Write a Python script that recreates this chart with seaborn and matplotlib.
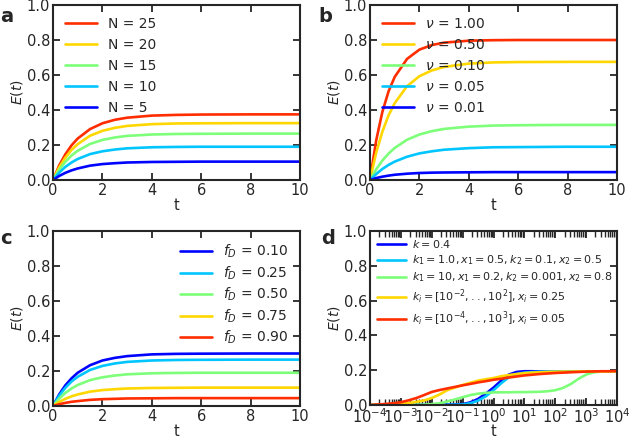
import numpy as np
import matplotlib
matplotlib.use("Agg")
import matplotlib.pyplot as plt
import matplotlib.ticker as mticker
import seaborn as sns

# time grid for panels a-c
t = [0, 0.25, 0.5, 0.75, 1, 1.5, 2, 2.5, 3, 4, 5, 6, 8, 10]

# panel a: number N
labels_a = ["N = 25", "N = 20", "N = 15", "N = 10", "N = 5"]
E_a = [
    [0, 0.083, 0.147, 0.198, 0.237, 0.291, 0.324, 0.344, 0.356, 0.368, 0.372, 0.374, 0.375, 0.375],
    [0, 0.072, 0.128, 0.172, 0.205, 0.253, 0.281, 0.298, 0.309, 0.319, 0.323, 0.324, 0.325, 0.325],
    [0, 0.059, 0.104, 0.140, 0.167, 0.206, 0.229, 0.243, 0.252, 0.260, 0.263, 0.264, 0.265, 0.265],
    [0, 0.042, 0.075, 0.100, 0.120, 0.148, 0.164, 0.174, 0.181, 0.187, 0.189, 0.190, 0.190, 0.190],
    [0, 0.023, 0.041, 0.055, 0.066, 0.082, 0.091, 0.096, 0.100, 0.103, 0.104, 0.105, 0.105, 0.105],
]
cpos_a = [0.86, 0.68, 0.5, 0.32, 0.13]

# panel b: nu
labels_b = [r"$\nu$ = 1.00", r"$\nu$ = 0.50", r"$\nu$ = 0.10", r"$\nu$ = 0.05", r"$\nu$ = 0.01"]
E_b = [
    [0, 0.226, 0.389, 0.506, 0.589, 0.692, 0.745, 0.771, 0.785, 0.796, 0.799, 0.800, 0.800, 0.800],
    [0, 0.156, 0.276, 0.369, 0.439, 0.536, 0.593, 0.626, 0.646, 0.665, 0.672, 0.674, 0.675, 0.675],
    [0, 0.061, 0.111, 0.151, 0.183, 0.230, 0.260, 0.279, 0.292, 0.305, 0.311, 0.313, 0.315, 0.315],
    [0, 0.034, 0.063, 0.086, 0.105, 0.133, 0.152, 0.164, 0.173, 0.182, 0.187, 0.188, 0.190, 0.190],
    [0, 0.011, 0.019, 0.025, 0.030, 0.036, 0.040, 0.042, 0.043, 0.044, 0.045, 0.045, 0.045, 0.045],
]
cpos_b = [0.86, 0.68, 0.5, 0.32, 0.13]

# panel c: f_D
labels_c = [r"$f_D$ = 0.10", r"$f_D$ = 0.25", r"$f_D$ = 0.50", r"$f_D$ = 0.75", r"$f_D$ = 0.90"]
E_c = [
    [0, 0.066, 0.118, 0.158, 0.190, 0.233, 0.260, 0.275, 0.285, 0.295, 0.298, 0.299, 0.300, 0.300],
    [0, 0.059, 0.104, 0.140, 0.167, 0.206, 0.229, 0.243, 0.252, 0.260, 0.263, 0.264, 0.265, 0.265],
    [0, 0.042, 0.075, 0.100, 0.120, 0.148, 0.164, 0.174, 0.181, 0.187, 0.189, 0.190, 0.190, 0.190],
    [0, 0.023, 0.041, 0.055, 0.066, 0.082, 0.091, 0.096, 0.100, 0.103, 0.104, 0.105, 0.105, 0.105],
    [0, 0.010, 0.018, 0.024, 0.028, 0.035, 0.039, 0.041, 0.043, 0.044, 0.045, 0.045, 0.045, 0.045],
]
cpos_c = [0.13, 0.32, 0.5, 0.68, 0.86]

# panel d: log time, exponents of 10
log_t_d = [-4, -3.75, -3.5, -3.25, -3, -2.75, -2.5, -2.25, -2, -1.75, -1.5, -1.25, -1, -0.75,
           -0.5, -0.25, 0, 0.25, 0.5, 0.75, 1, 1.25, 1.5, 1.75, 2, 2.25, 2.5, 2.75, 3, 3.25,
           3.5, 3.75, 4]
labels_d = [
    r"$k = 0.4$",
    r"$k_1 = 1.0, x_1 = 0.5, k_2 = 0.1, x_2 = 0.5$",
    r"$k_1 = 10, x_1 = 0.2, k_2 = 0.001, x_2 = 0.8$",
    r"$k_i = [10^{-2}, . . , 10^{2}], x_i = 0.25$",
    r"$k_i = [10^{-4}, . . , 10^{3}], x_i = 0.05$",
]
E_d = [
    [0, 0, 0, 0, 0, 0, 0, 0, 0.001, 0.001, 0.002, 0.003, 0.005, 0.015, 0.035, 0.065, 0.100,
     0.140, 0.175, 0.190, 0.194, 0.194, 0.193, 0.193, 0.193, 0.193, 0.193, 0.193, 0.193,
     0.193, 0.193, 0.193, 0.193],
    [0, 0, 0, 0, 0, 0, 0, 0, 0, 0, 0.001, 0.002, 0.003, 0.010, 0.025, 0.050, 0.085, 0.125,
     0.160, 0.178, 0.186, 0.189, 0.191, 0.192, 0.193, 0.193, 0.193, 0.193, 0.193, 0.193,
     0.193, 0.193, 0.193],
    [0, 0, 0, 0, 0, 0, 0.001, 0.002, 0.005, 0.010, 0.020, 0.032, 0.045, 0.057, 0.065, 0.070,
     0.072, 0.073, 0.073, 0.074, 0.074, 0.075, 0.076, 0.079, 0.085, 0.098, 0.120, 0.150,
     0.175, 0.188, 0.192, 0.193, 0.193],
    [0, 0.001, 0.002, 0.004, 0.006, 0.011, 0.018, 0.026, 0.040, 0.060, 0.085, 0.100, 0.115,
     0.128, 0.140, 0.148, 0.155, 0.165, 0.172, 0.178, 0.183, 0.186, 0.188, 0.190, 0.191,
     0.192, 0.192, 0.193, 0.193, 0.193, 0.193, 0.193, 0.193],
    [0, 0.003, 0.006, 0.010, 0.016, 0.027, 0.040, 0.057, 0.075, 0.086, 0.095, 0.104, 0.113,
     0.121, 0.130, 0.137, 0.145, 0.151, 0.158, 0.164, 0.170, 0.174, 0.178, 0.181, 0.184,
     0.186, 0.188, 0.190, 0.192, 0.193, 0.194, 0.194, 0.195],
]
cpos_d = [0.13, 0.32, 0.5, 0.68, 0.86]

sns.set_style("ticks")
plt.rcParams["font.family"] = ["DejaVu Sans"]
plt.rcParams["mathtext.fontset"] = "dejavusans"

cmap = plt.get_cmap("jet")
fig = plt.figure(figsize=(6.29, 4.40), dpi=100)

W, H = 247 / 629, 175 / 440
ax_a = fig.add_axes([53 / 629, 260 / 440, W, H])
ax_b = fig.add_axes([370 / 629, 260 / 440, W, H])
ax_c = fig.add_axes([53 / 629, 34 / 440, W, H])
ax_d = fig.add_axes([370 / 629, 35 / 440, W, H - 1 / 440])


def style_axes(ax, xpad=0):
    for s in ax.spines.values():
        s.set_linewidth(1.5)
    ax.tick_params(which="major", direction="in", top=True, right=True,
                   length=5, width=1.3, labelsize=10.5, pad=2)
    ax.tick_params(which="minor", direction="in", top=True, right=True,
                   length=4, width=1.0)
    ax.set_ylim(0, 1.0)
    ax.set_yticks([0, 0.2, 0.4, 0.6, 0.8, 1.0])
    ax.set_ylabel("$E(t)$", fontsize=10, labelpad=1)
    ax.set_xlabel("t", fontsize=10.5, labelpad=xpad)


panels = [
    (ax_a, E_a, labels_a, cpos_a, "upper left", 0.5),
    (ax_b, E_b, labels_b, cpos_b, "upper left", 0.5),
    (ax_c, E_c, labels_c, cpos_c, "upper right", 0.3),
]
for ax, data, labs, cp, loc, sp in panels:
    for vals, lab, c in zip(data, labs, cp):
        sns.lineplot(x=t, y=vals, color=cmap(c), lw=1.9, label=lab, ax=ax)
    ax.set_xlim(0, 10)
    ax.set_xticks([0, 2, 4, 6, 8, 10])
    style_axes(ax)
    ax.legend(loc=loc, frameon=False, fontsize=10, handlelength=2.3,
              labelspacing=sp, borderaxespad=0.45, handletextpad=0.8)

t_d = np.power(10.0, log_t_d)
for vals, lab, c in zip(E_d, labels_d, cpos_d):
    sns.lineplot(x=t_d, y=vals, color=cmap(c), lw=1.9, label=lab, ax=ax_d)
ax_d.set_xscale("log")
ax_d.set_xlim(1e-4, 1e4)
ax_d.xaxis.set_major_locator(mticker.LogLocator(base=10, numticks=20))
ax_d.xaxis.set_minor_locator(mticker.LogLocator(base=10, subs=np.arange(2, 10), numticks=20))
ax_d.xaxis.set_minor_formatter(mticker.NullFormatter())
style_axes(ax_d, xpad=-1.5)
ax_d.legend(loc="upper left", frameon=False, fontsize=8, handlelength=2.6,
            labelspacing=0.3, borderaxespad=0.25, handletextpad=0.5)

fig.text(0.0, 1 - 17 / 440, "a", fontsize=14, fontweight="bold", va="center", ha="left")
fig.text(318 / 629, 1 - 17 / 440, "b", fontsize=14, fontweight="bold", va="center", ha="left")
fig.text(0.0, 1 - 238 / 440, "c", fontsize=14, fontweight="bold", va="center", ha="left")
fig.text(321 / 629, 1 - 238 / 440, "d", fontsize=14, fontweight="bold", va="center", ha="left")

fig.savefig("out.png", dpi=100)
